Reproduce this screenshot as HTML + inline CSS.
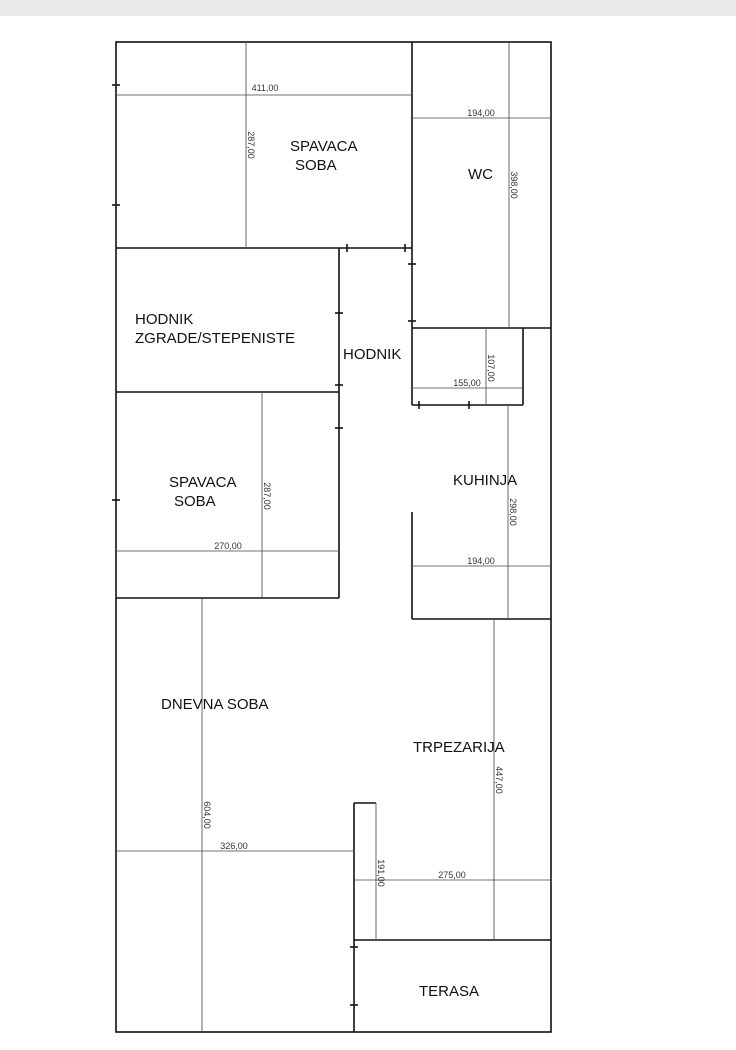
<!DOCTYPE html>
<html><head><meta charset="utf-8"><style>
body{margin:0;background:#fff;}
svg{display:block;}
text{font-family:"Liberation Sans",sans-serif;}
.w{stroke:#111;stroke-width:1.6;fill:none;}
.d{stroke:#444;stroke-width:0.8;fill:none;}
.l{font-size:15px;fill:#111;}
.n{font-size:9px;fill:#333;}
</style></head><body>
<svg width="736" height="1050" viewBox="0 0 736 1050">
<rect x="0" y="0" width="736" height="16" fill="#e9e9e9"/>
<g class="w">
<rect x="116" y="42" width="435" height="990"/>
<line x1="116" y1="248" x2="412" y2="248"/>
<line x1="412" y1="42" x2="412" y2="405"/>
<line x1="412" y1="328" x2="551" y2="328"/>
<line x1="412" y1="405" x2="523" y2="405"/>
<line x1="523" y1="328" x2="523" y2="405"/>
<line x1="339" y1="248" x2="339" y2="598"/>
<line x1="116" y1="392" x2="339" y2="392"/>
<line x1="116" y1="598" x2="339" y2="598"/>
<line x1="412" y1="512" x2="412" y2="619"/>
<line x1="412" y1="619" x2="551" y2="619"/>
<line x1="354" y1="803" x2="354" y2="1032"/>
<line x1="354" y1="803" x2="376" y2="803"/>
<line x1="354" y1="940" x2="551" y2="940"/>
<line x1="112" y1="85" x2="120" y2="85"/>
<line x1="112" y1="205" x2="120" y2="205"/>
<line x1="112" y1="500" x2="120" y2="500"/>
<line x1="347" y1="244" x2="347" y2="252"/>
<line x1="405" y1="244" x2="405" y2="252"/>
<line x1="408" y1="264" x2="416" y2="264"/>
<line x1="408" y1="321" x2="416" y2="321"/>
<line x1="335" y1="313" x2="343" y2="313"/>
<line x1="335" y1="385" x2="343" y2="385"/>
<line x1="335" y1="428" x2="343" y2="428"/>
<line x1="419" y1="401" x2="419" y2="409"/>
<line x1="469" y1="401" x2="469" y2="409"/>
<line x1="350" y1="947" x2="358" y2="947"/>
<line x1="350" y1="1005" x2="358" y2="1005"/>
</g>
<g class="d">
<line x1="116" y1="95" x2="412" y2="95"/>
<line x1="246" y1="42" x2="246" y2="248"/>
<line x1="412" y1="118" x2="551" y2="118"/>
<line x1="509" y1="42" x2="509" y2="328"/>
<line x1="486" y1="328" x2="486" y2="405"/>
<line x1="412" y1="388" x2="523" y2="388"/>
<line x1="508" y1="405" x2="508" y2="619"/>
<line x1="412" y1="566" x2="551" y2="566"/>
<line x1="262" y1="392" x2="262" y2="598"/>
<line x1="116" y1="551" x2="339" y2="551"/>
<line x1="202" y1="598" x2="202" y2="1032"/>
<line x1="116" y1="851" x2="354" y2="851"/>
<line x1="376" y1="803" x2="376" y2="940"/>
<line x1="354" y1="880" x2="551" y2="880"/>
<line x1="494" y1="619" x2="494" y2="940"/>
</g>
<g class="n">
<text x="265" y="91" text-anchor="middle">411,00</text>
<text x="481" y="116" text-anchor="middle">194,00</text>
<text x="467" y="386" text-anchor="middle">155,00</text>
<text x="481" y="564" text-anchor="middle">194,00</text>
<text x="228" y="549" text-anchor="middle">270,00</text>
<text x="234" y="849" text-anchor="middle">326,00</text>
<text x="452" y="878" text-anchor="middle">275,00</text>
<text transform="translate(248,145) rotate(90)" text-anchor="middle">287,00</text>
<text transform="translate(511,185) rotate(90)" text-anchor="middle">398,00</text>
<text transform="translate(488,368) rotate(90)" text-anchor="middle">107,00</text>
<text transform="translate(510,512) rotate(90)" text-anchor="middle">298,00</text>
<text transform="translate(264,496) rotate(90)" text-anchor="middle">287,00</text>
<text transform="translate(204,815) rotate(90)" text-anchor="middle">604,00</text>
<text transform="translate(378,873) rotate(90)" text-anchor="middle">191,00</text>
<text transform="translate(496,780) rotate(90)" text-anchor="middle">447,00</text>
</g>
<g class="l">
<text x="290" y="151">SPAVACA</text>
<text x="295" y="170">SOBA</text>
<text x="468" y="179">WC</text>
<text x="135" y="324">HODNIK</text>
<text x="135" y="343">ZGRADE/STEPENISTE</text>
<text x="343" y="359">HODNIK</text>
<text x="169" y="487">SPAVACA</text>
<text x="174" y="506">SOBA</text>
<text x="453" y="485">KUHINJA</text>
<text x="161" y="709">DNEVNA SOBA</text>
<text x="413" y="752">TRPEZARIJA</text>
<text x="419" y="996">TERASA</text>
</g>
</svg>
</body></html>
